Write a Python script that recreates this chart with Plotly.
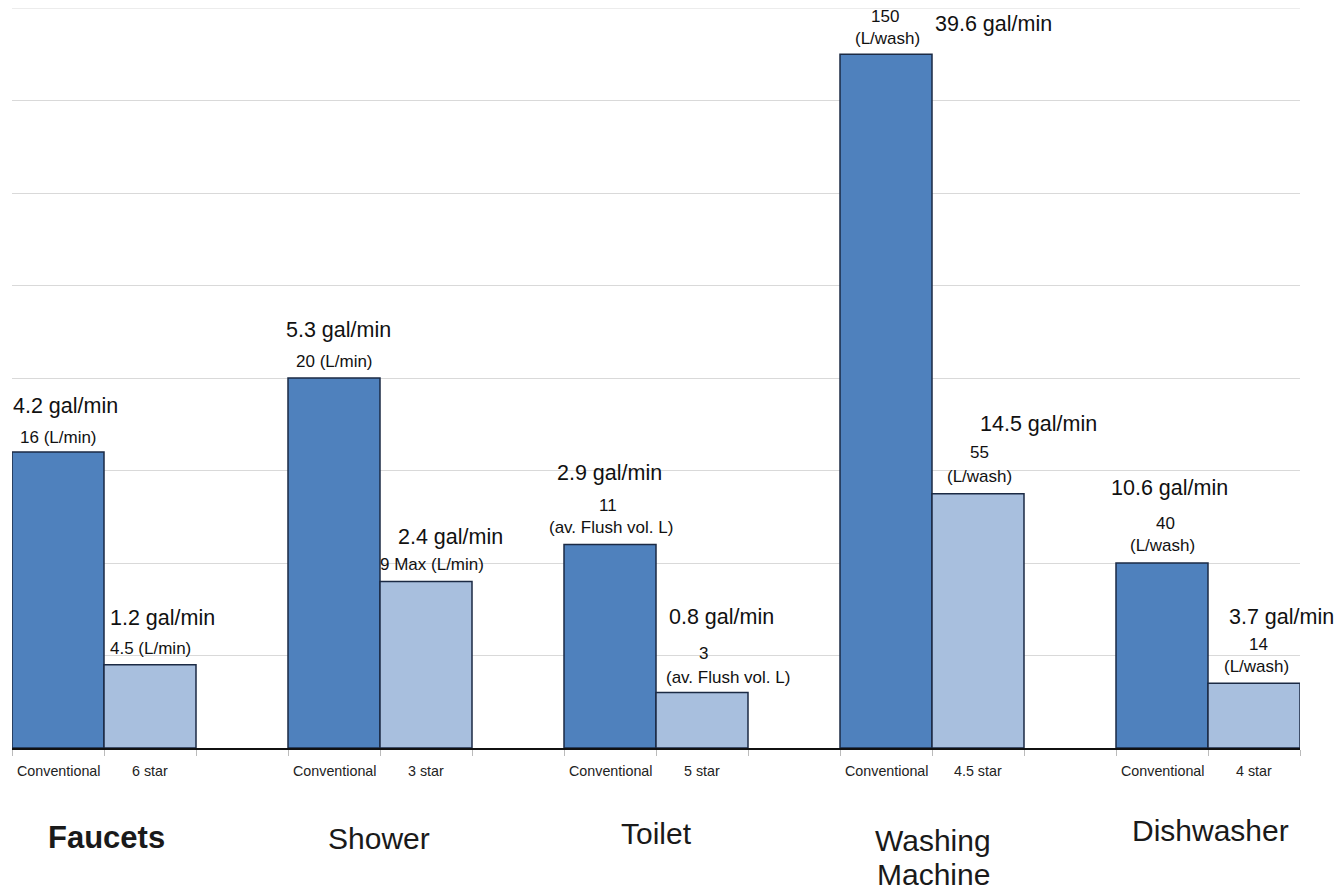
import plotly.graph_objects as go

# ---------------- data ----------------
categories = ["Faucets", "Shower", "Toilet", "Washing", "Dishwasher"]
category_line2 = ["", "", "", "Machine", ""]
tick_conventional = ["Conventional"] * 5
tick_efficient = ["6 star", "3 star", "5 star", "4.5 star", "4 star"]

# litres as labelled on the chart
conventional_L = [16, 20, 11, 150, 40]
efficient_L = [4.5, 9, 3, 55, 14]
# the chart draws washing machine and dishwasher bars at 1/4 scale
plot_scale = [1, 1, 1, 0.25, 0.25]

conventional_gal = ["4.2 gal/min", "5.3 gal/min", "2.9 gal/min", "39.6 gal/min", "10.6 gal/min"]
efficient_gal = ["1.2 gal/min", "2.4 gal/min", "0.8 gal/min", "14.5 gal/min", "3.7 gal/min"]

conventional_unit = [["16 (L/min)"], ["20 (L/min)"], ["11", "(av. Flush vol. L)"],
                     ["150", "(L/wash)"], ["40", "(L/wash)"]]
efficient_unit = [["4.5 (L/min)"], ["9 Max (L/min)"], ["3", "(av. Flush vol. L)"],
                  ["55", "(L/wash)"], ["14", "(L/wash)"]]

# ---------------- layout helpers ----------------
W, H = 1338, 891
ML, MR, MT, MB = 12, 38, 8, 143
PW, PH = W - ML - MR, H - MT - MB
FONT = "Arial, Liberation Sans, sans-serif"


def px(x, y):
    return (x - ML) / PW, (H - MB - y) / PH


conv_x = [3 * i + 0.5 for i in range(5)]
eff_x = [3 * i + 1.5 for i in range(5)]
conv_h = [v * s for v, s in zip(conventional_L, plot_scale)]
eff_h = [v * s for v, s in zip(efficient_L, plot_scale)]

fig = go.Figure()
fig.add_trace(go.Bar(x=conv_x, y=conv_h, width=1, marker=dict(color="#4F81BD",
                     line=dict(color="#1B2A44", width=1.5)), hoverinfo="skip"))
fig.add_trace(go.Bar(x=eff_x, y=eff_h, width=1, marker=dict(color="#A8BFDE",
                     line=dict(color="#1B2A44", width=1.5)), hoverinfo="skip"))

annotations = []


def add(text, x, y, size, bold=False, color="#111111"):
    xp, yp = px(x, y)
    annotations.append(dict(text=f"<b>{text}</b>" if bold else text, x=xp, y=yp,
                            xref="paper", yref="paper", xanchor="center", yanchor="middle",
                            showarrow=False, font=dict(family=FONT, size=size, color=color)))


# label pixel positions (centre x, centre y)
conv_gal_pos = [(65, 406), (338, 330), (609, 473), (993, 24), (1169, 488)]
eff_gal_pos = [(162, 618), (450, 537), (721, 617), (1038, 424), (1281, 617)]
conv_unit_pos = [[(58, 437)], [(334, 361)], [(608, 505), (611, 527)],
                 [(885, 17), (887, 38)], [(1165, 523), (1162, 545)]]
eff_unit_pos = [[(150, 648)], [(432, 564)], [(703, 653), (728, 677)],
                [(979, 452), (979, 476)], [(1258, 644), (1256, 666)]]

for i in range(5):
    add(conventional_gal[i], *conv_gal_pos[i], 21.5)
    add(efficient_gal[i], *eff_gal_pos[i], 21.5)
    for t, p in zip(conventional_unit[i], conv_unit_pos[i]):
        add(t, *p, 17)
    for t, p in zip(efficient_unit[i], eff_unit_pos[i]):
        add(t, *p, 17)

# bar tick labels
for i in range(5):
    cx = ML + conv_x[i] * PW / 14
    ex = ML + eff_x[i] * PW / 14
    add(tick_conventional[i], cx, 771, 14.3, color="#222222")
    add(tick_efficient[i], ex, 771, 14.3, color="#222222")

# category labels
cat_pos = [(106, 837), (379, 838), (656, 833), (933, 840), (1210, 830)]
cat_line2_pos = [None, None, None, (933, 874), None]
for i, c in enumerate(categories):
    add(c, *cat_pos[i], 31 if i == 0 else 30, bold=(i == 0), color="#1a1a1a")
    if category_line2[i]:
        add(category_line2[i], *cat_line2_pos[i], 30, color="#1a1a1a")

fig.update_layout(
    width=W, height=H,
    margin=dict(l=ML, r=MR, t=MT, b=MB, autoexpand=False),
    paper_bgcolor="white", plot_bgcolor="white",
    showlegend=False, barmode="overlay",
    annotations=annotations,
    font=dict(family=FONT),
    shapes=[dict(type="line", xref="paper", yref="y", x0=0, x1=1, y0=40, y1=40,
                 line=dict(color="#D9D9D9", width=1), layer="below")],
    xaxis=dict(range=[0, 14], showgrid=False, zeroline=False, showline=True,
               linecolor="#111111", linewidth=1.5, tickvals=[], showticklabels=False,
               minor=dict(ticks="outside", ticklen=6, tickcolor="#BBBBBB", tick0=0, dtick=1,
                          showgrid=False)),
    yaxis=dict(range=[0, 40], dtick=5, showgrid=True, gridcolor="#D9D9D9", gridwidth=1,
               zeroline=False, showticklabels=False, ticks=""),
)

fig.write_html("out.html")
